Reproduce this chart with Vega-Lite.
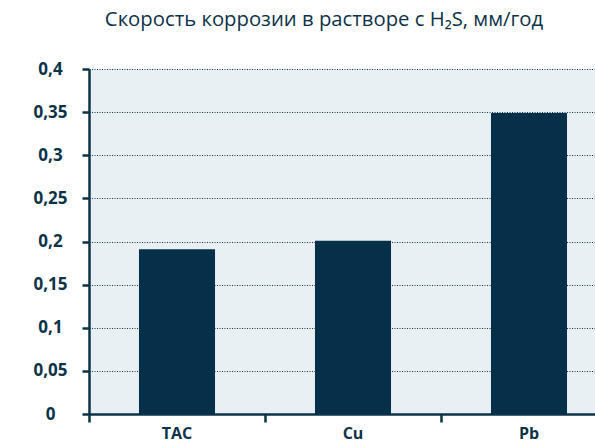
{
  "$schema": "https://vega.github.io/schema/vega-lite/v6.json",
  "width": 506,
  "height": 345,
  "autosize": {"type": "none"},
  "padding": {"left": 89, "top": 69, "right": 0, "bottom": 28},
  "background": "white",
  "title": {
    "text": "Скорость коррозии в растворе с H₂S, мм/год",
    "font": "Open Sans",
    "fontSize": 20.3,
    "fontWeight": "normal",
    "color": "#0d3349",
    "anchor": "middle",
    "frame": "group",
    "baseline": "alphabetic",
    "offset": 14,
    "dx": -18
  },
  "config": {"view": {"fill": "#e9f0f4", "stroke": null}},
  "data": {
    "values": [
      {"metal": "TAC", "rate": 0.191},
      {"metal": "Cu", "rate": 0.201},
      {"metal": "Pb", "rate": 0.349}
    ]
  },
  "mark": {"type": "bar", "color": "#06304a"},
  "encoding": {
    "x": {
      "field": "metal",
      "type": "nominal",
      "sort": null,
      "scale": {"range": [0, 528], "paddingInner": 0.568, "paddingOuter": 0.284},
      "axis": {
        "title": null,
        "labelAngle": 0,
        "bandPosition": -0.6574,
        "ticks": true,
        "tickSize": 8,
        "tickWidth": 2.5,
        "tickColor": "#0d3349",
        "domainColor": "#0d3349",
        "domainWidth": 2.5,
        "labelFont": "Open Sans",
        "labelFontWeight": "bold",
        "labelFontSize": 16,
        "labelColor": "#0d3349",
        "labelPadding": 3,
        "grid": false
      }
    },
    "y": {
      "field": "rate",
      "type": "quantitative",
      "scale": {"domain": [0, 0.4], "nice": false},
      "axis": {
        "title": null,
        "values": [0, 0.05, 0.1, 0.15, 0.2, 0.25, 0.3, 0.35, 0.4],
        "labelExpr": "replace(format(datum.value, '.2~f'), '.', ',')",
        "grid": true,
        "gridColor": "#0d3349",
        "gridDash": [1, 1.5],
        "gridWidth": 1,
        "domainColor": "#0d3349",
        "domainWidth": 2.5,
        "tickColor": "#0d3349",
        "tickWidth": 2.5,
        "tickSize": 7,
        "labelFont": "Open Sans",
        "labelFontWeight": "bold",
        "labelFontSize": 17,
        "labelColor": "#0d3349",
        "labelAlign": "center",
        "labelPadding": 32
      }
    }
  }
}
